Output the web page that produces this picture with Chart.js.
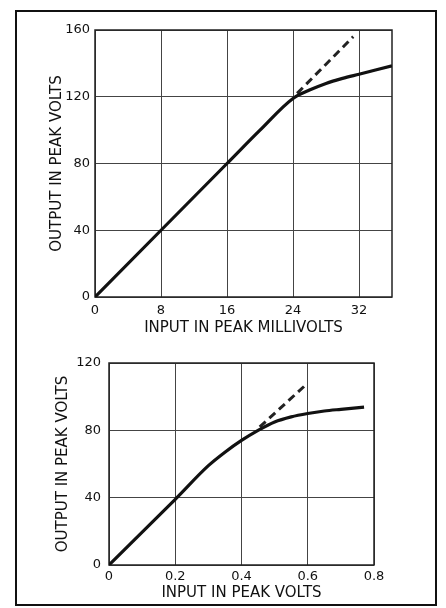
<!DOCTYPE html>
<html>
<head>
<meta charset="utf-8">
<script src="https://cdn.jsdelivr.net/npm/chart.js@4"></script>
<style>
    html, body { margin: 0; padding: 0; background: #fff; }
    #page { position: relative; width: 446px; height: 608px; overflow: hidden; background: #fff; }
    #frame { position: absolute; left: 15px; top: 10px; width: 422px; height: 596px; border: 2px solid #111; box-sizing: border-box; pointer-events: none; }
    .box { position: absolute; left: 0; width: 446px; }
    #box-top { top: 0; height: 345px; }
    #box-bottom { top: 345px; height: 263px; }
</style>
</head>
<body>
<div id="page">
    <div class="box" id="box-top"><canvas id="chart-top"></canvas></div>
    <div class="box" id="box-bottom"><canvas id="chart-bottom"></canvas></div>
    <div id="frame"></div>
</div>
<script>
// 위 그래프: 입력 mV -> 출력 V
const topInput = [0, 8, 16, 20, 24, 26, 28, 30, 32, 34, 36];
const topOutput = [0, 40, 80, 100, 119, 124, 128, 131, 133.5, 136, 138.5];
const topIdealInput = [24.5, 31.3];
const topIdealOutput = [122, 156];
const topXTicks = [0, 8, 16, 24, 32];
const topXLabels = ['0', '8', '16', '24', '32'];
const topYTicks = [0, 40, 80, 120, 160];

// 아래 그래프: 입력 V -> 출력 V
const bottomInput = [0, 0.2, 0.3, 0.35, 0.4, 0.45, 0.5, 0.55, 0.6, 0.65, 0.7, 0.77];
const bottomOutput = [0, 39, 59, 67, 74, 80, 85, 88, 90, 91.5, 92.5, 93.8];
const bottomIdealInput = [0.455, 0.594];
const bottomIdealOutput = [82, 107];
const bottomXTicks = [0, 0.2, 0.4, 0.6, 0.8];
const bottomXLabels = ['0', '0.2', '0.4', '0.6', '0.8'];
const bottomYTicks = [0, 40, 80, 120];

const INK = '#111';
const tickFont = { family: "'DejaVu Sans', sans-serif", size: 13 };
const titleFont = { family: "'DejaVu Sans', sans-serif", size: 15 };

// 플롯 영역 테두리
const plotFrame = {
    id: 'plotFrame',
    beforeDatasetsDraw(chart) {
        const { ctx, chartArea: a } = chart;
        ctx.save();
        ctx.strokeStyle = '#222';
        ctx.lineWidth = 1.5;
        ctx.strokeRect(a.left, a.top, a.right - a.left, a.bottom - a.top);
        ctx.restore();
    }
};

const toPoints = (xs, ys) => xs.map((x, i) => ({ x, y: ys[i] }));

const makeChart = (id, o) => {
    return new Chart(document.getElementById(id), {
        type: 'line',
        data: {
            datasets: [
                {
                    data: toPoints(o.input, o.output),
                    borderColor: INK,
                    borderWidth: 3.2,
                    pointRadius: 0,
                    cubicInterpolationMode: 'monotone',
                    fill: false
                },
                {
                    data: toPoints(o.idealInput, o.idealOutput),
                    borderColor: '#222',
                    borderWidth: 3,
                    borderDash: [8, 5],
                    pointRadius: 0,
                    fill: false
                }
            ]
        },
        options: {
            responsive: true,
            maintainAspectRatio: false,
            animation: false,
            events: [],
            layout: { padding: o.padding },
            plugins: { legend: { display: false }, tooltip: { enabled: false } },
            scales: {
                x: {
                    type: 'linear',
                    min: 0,
                    max: o.xMax,
                    afterBuildTicks: s => { s.ticks = o.xTicks.map(v => ({ value: v })); },
                    afterFit: s => { s.height = o.xAxisHeight; },
                    grid: { color: '#444', lineWidth: 1, drawTicks: false },
                    border: { display: false },
                    ticks: {
                        padding: o.xTickPad,
                        color: INK,
                        font: tickFont,
                        maxRotation: 0,
                        autoSkip: false,
                        callback: (v, i) => o.xLabels[i]
                    },
                    title: { display: true, text: o.xTitle, color: INK, font: titleFont, padding: 0 }
                },
                y: {
                    type: 'linear',
                    min: 0,
                    max: o.yMax,
                    afterBuildTicks: s => { s.ticks = o.yTicks.map(v => ({ value: v })); },
                    afterFit: s => { s.width = o.yAxisWidth; },
                    grid: { color: '#444', lineWidth: 1, drawTicks: false },
                    border: { display: false },
                    ticks: { padding: o.yTickPad, color: INK, font: tickFont },
                    title: { display: true, text: 'OUTPUT IN PEAK VOLTS', color: INK, font: titleFont, padding: 0 }
                }
            }
        },
        plugins: [plotFrame]
    });
};

makeChart('chart-top', {
    input: topInput, output: topOutput,
    idealInput: topIdealInput, idealOutput: topIdealOutput,
    xTicks: topXTicks, xLabels: topXLabels, yTicks: topYTicks,
    xMax: 36, yMax: 160,
    xTitle: 'INPUT IN PEAK MILLIVOLTS',
    padding: { top: 30, right: 54, bottom: 8, left: 48 },
    xAxisHeight: 40, yAxisWidth: 47,
    xTickPad: 6, yTickPad: 5
});

makeChart('chart-bottom', {
    input: bottomInput, output: bottomOutput,
    idealInput: bottomIdealInput, idealOutput: bottomIdealOutput,
    xTicks: bottomXTicks, xLabels: bottomXLabels, yTicks: bottomYTicks,
    xMax: 0.8, yMax: 120,
    xTitle: 'INPUT IN PEAK VOLTS',
    padding: { top: 18, right: 72, bottom: 6, left: 54 },
    xAxisHeight: 37, yAxisWidth: 55,
    xTickPad: 4, yTickPad: 8
});
</script>
</body>
</html>
